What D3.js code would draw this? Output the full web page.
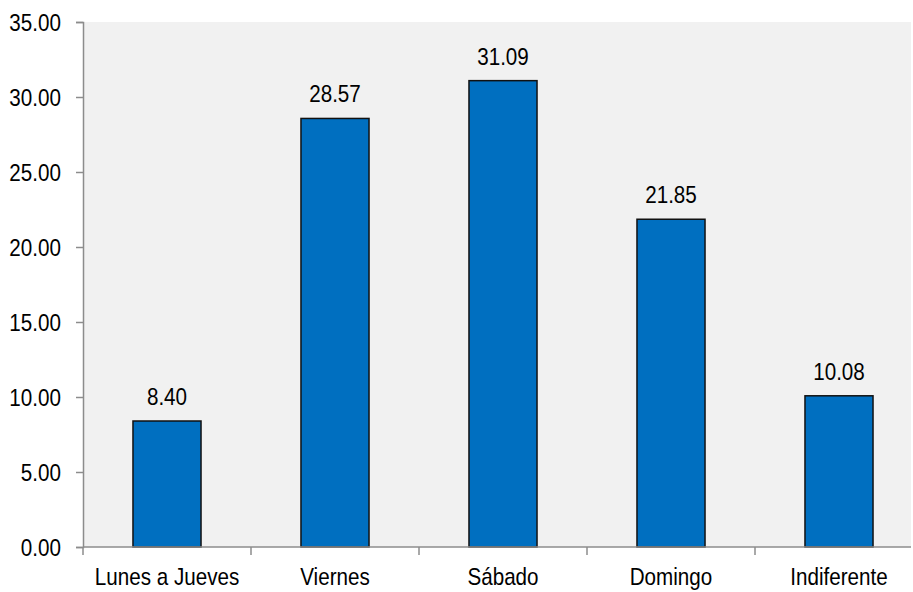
<!DOCTYPE html>
<html>
<head>
<meta charset="utf-8">
<script src="https://cdn.jsdelivr.net/npm/d3@7"></script>
<style>
  html, body { margin: 0; padding: 0; background: #ffffff; }
  svg { display: block; }
  text { font-family: "Liberation Sans", Arial, sans-serif; fill: #000; }
</style>
</head>
<body>
<svg id="chart" width="913" height="592"></svg>
<script>
// Días preferidos (porcentaje)
const categories = ["Lunes a Jueves", "Viernes", "Sábado", "Domingo", "Indiferente"];
const values = [8.40, 28.57, 31.09, 21.85, 10.08];
const yTicks = [0, 5, 10, 15, 20, 25, 30, 35];

const svg = d3.select("#chart");
const m = { left: 83, right: 923, top: 22, bottom: 547, plotRight: 911 };
const narrow = 0.86;   // compresión horizontal del texto (estilo "narrow")
const fs = 24;

const x = d3.scaleBand().domain(categories).range([m.left, m.right]).paddingInner(0.595).paddingOuter(0.2975);
const y = d3.scaleLinear().domain([0, 35]).range([m.bottom, m.top]);

// Fondo del área de trazado
svg.append("rect")
  .attr("x", m.left).attr("y", m.top)
  .attr("width", m.plotRight - m.left).attr("height", m.bottom - m.top)
  .attr("fill", "#f1f1f1");

// Barras
svg.append("g").selectAll("rect")
  .data(values)
  .join("rect")
  .attr("x", (d, i) => x(categories[i]))
  .attr("y", d => y(d))
  .attr("width", x.bandwidth())
  .attr("height", d => y(0) - y(d))
  .attr("fill", "#006fc0")
  .attr("stroke", "#111")
  .attr("stroke-width", 1.5);

// Etiquetas de valor
svg.append("g").selectAll("text")
  .data(values)
  .join("text")
  .attr("transform", (d, i) => `translate(${x(categories[i]) + x.bandwidth() / 2},${y(d) - 16}) scale(${narrow},1)`)
  .attr("text-anchor", "middle")
  .attr("font-size", fs)
  .text(d => d.toFixed(2));

// Eje Y
const yAxis = svg.append("g")
  .attr("transform", `translate(${m.left},0)`)
  .call(d3.axisLeft(y).tickValues(yTicks).tickSize(7).tickPadding(15).tickFormat(d => d.toFixed(2)));
yAxis.attr("font-family", null).attr("font-size", null);
yAxis.select(".domain").attr("stroke", "#8c8c8c").attr("stroke-width", 1.5);
yAxis.selectAll(".tick line").attr("stroke", "#8c8c8c").attr("stroke-width", 1.5);
yAxis.selectAll(".tick text")
  .attr("font-size", fs)
  .attr("dy", "0.35em")
  .attr("x", -22 / narrow)
  .attr("transform", `scale(${narrow},1)`);

// Eje X
const xAxis = svg.append("g")
  .attr("transform", `translate(0,${m.bottom})`);
xAxis.append("line")
  .attr("x1", m.left).attr("x2", m.plotRight)
  .attr("stroke", "#8c8c8c").attr("stroke-width", 1.5);
const bounds = categories.map((c, i) => m.left + i * x.step());
xAxis.selectAll(".sep")
  .data(bounds)
  .join("line")
  .attr("class", "sep")
  .attr("x1", d => d).attr("x2", d => d)
  .attr("y1", 0).attr("y2", 8)
  .attr("stroke", "#8c8c8c").attr("stroke-width", 1.5);
xAxis.selectAll(".lbl")
  .data(categories)
  .join("text")
  .attr("class", "lbl")
  .attr("transform", d => `translate(${x(d) + x.bandwidth() / 2},38) scale(${narrow},1)`)
  .attr("text-anchor", "middle")
  .attr("font-size", fs)
  .text(d => d);
</script>
</body>
</html>
